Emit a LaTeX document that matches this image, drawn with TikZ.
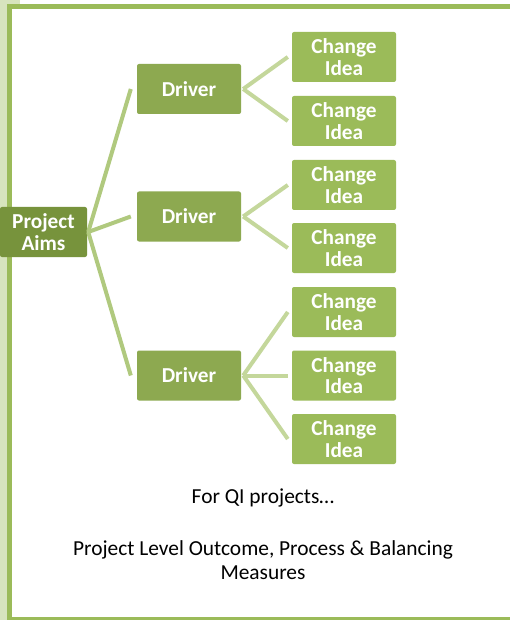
\documentclass[tikz,border=0pt]{standalone}
\usepackage{fontspec}
\setmainfont{Carlito}
\definecolor{framec}{RGB}{155,187,89}
\definecolor{lightf}{RGB}{215,228,189}
\definecolor{aimc}{RGB}{119,147,60}
\definecolor{drvc}{RGB}{141,169,80}
\definecolor{chgc}{RGB}{155,187,89}
\definecolor{lineA}{RGB}{176,201,126}
\definecolor{lineB}{RGB}{196,215,155}
\begin{document}
\begin{tikzpicture}[x=1pt,y=-1pt,
 box/.style={rounded corners=2pt, minimum width=104pt, minimum height=50pt, inner sep=0pt, align=center, text=white, font=\fontsize{21.3}{21.7}\selectfont\bfseries},
 aimbox/.style={box, fill=aimc, minimum width=87pt},
 drvbox/.style={box, fill=drvc},
 chgbox/.style={box, fill=chgc},
 linkA/.style={draw=lineA, line width=4pt},
 linkB/.style={draw=lineB, line width=4pt},
 caption/.style={font=\fontsize{21.4}{24.3}\selectfont, align=center, text=black, inner sep=0pt}]
\useasboundingbox (0,0) rectangle (510,620);
\fill[lightf] (0,0) rectangle (20,620);
\draw[framec, fill=white, line width=5pt] (9.5,6.5) rectangle (514,619.5);

\node[aimbox] (aims) at (43.5,232) {Project\\Aims};

\node[drvbox] (d1) at (189,89) {Driver};
\node[drvbox] (d2) at (189,216.5) {Driver};
\node[drvbox] (d3) at (189,375.5) {Driver};

\node[chgbox] (c1) at (344,57) {Change\\Idea};
\node[chgbox] (c2) at (344,121) {Change\\Idea};
\node[chgbox] (c3) at (344,185) {Change\\Idea};
\node[chgbox] (c4) at (344,248) {Change\\Idea};
\node[chgbox] (c5) at (344,312) {Change\\Idea};
\node[chgbox] (c6) at (344,375.5) {Change\\Idea};
\node[chgbox] (c7) at (344,439) {Change\\Idea};

\foreach \d in {d1,d2,d3}
  \draw[linkA] ([xshift=1pt]aims.east) -- ([xshift=-6pt]\d.west);
\foreach \c in {c1,c2}
  \draw[linkB] ([xshift=2pt]d1.east) -- ([xshift=-4pt]\c.west);
\foreach \c in {c3,c4}
  \draw[linkB] ([xshift=2pt]d2.east) -- ([xshift=-4pt]\c.west);
\foreach \c in {c5,c6,c7}
  \draw[linkB] ([xshift=2pt]d3.east) -- ([xshift=-4pt]\c.west);

\node[caption, anchor=base] (qi) at (263,503) {For QI projects…};
\node[caption, anchor=base] (meas) at (263,579.3) {Project Level Outcome, Process \& Balancing\\Measures};
\end{tikzpicture}
\end{document}
